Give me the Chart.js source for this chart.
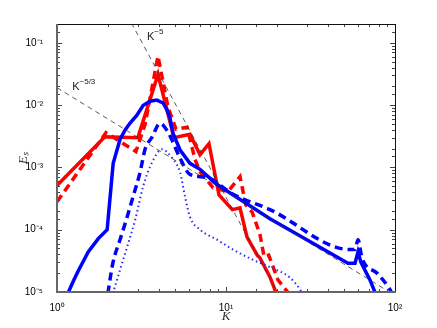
<!DOCTYPE html>
<html>
<head>
<meta charset="utf-8">
<script src="https://cdn.jsdelivr.net/npm/chart.js@4.4.0/dist/chart.umd.min.js"></script>
<style>
  html, body { margin: 0; padding: 0; background: #fff; }
</style>
</head>
<body>
<canvas id="chart" width="437" height="328"></canvas>
<script>
// spectra (K, E_s)
const redSolidK = [1, 1.92, 3.01, 3.96, 4.92, 6.12, 7.02, 7.93, 9.09, 10.9, 12.1, 13.3, 15.3, 15.9, 18.2, 20]
const redSolidE = [5.1e-4, 3.1e-3, 3.0e-3, 0.031, 3.0e-3, 3.4e-3, 1.6e-3, 2.4e-3, 3.6e-4, 2.1e-4, 2.25e-4, 7.7e-5, 3.9e-5, 3.5e-5, 1.75e-5, 9e-6]

const redDashK = [1, 1.95, 2.93, 3.32, 3.96, 4.54, 5.06, 5.88, 6.56, 7.02, 8.38, 10.3, 12.1, 13.1, 14.3, 15.9, 16.8, 17.9, 20.3, 23.9]
const redDashE = [2.8e-4, 3.6e-3, 1.8e-3, 4.9e-3, 0.061, 9.2e-3, 4.1e-3, 4.4e-3, 1.34e-3, 8.5e-4, 4.7e-4, 4.1e-4, 7.1e-4, 2.5e-4, 1.9e-4, 8.3e-5, 3.7e-5, 3.9e-5, 1.56e-5, 9e-6]

const blueSolidK = [1.166, 1.25, 1.337, 1.53, 1.755, 1.98, 2.15, 2.36, 2.53, 2.7, 2.97, 3.23, 3.55, 3.9, 4.24, 4.48, 4.66, 4.86, 5.35, 6.12, 7.02, 8.85, 18.2, 52.7, 58, 60.4, 62.9, 71.1, 77.2]
const blueSolidE = [9.8e-6, 1.5e-5, 2.2e-5, 4.4e-5, 7.2e-5, 1e-4, 1.16e-3, 2.8e-3, 4e-3, 5.1e-3, 6.9e-3, 9.8e-3, 1.15e-2, 1.2e-2, 1.08e-2, 8.3e-3, 6.2e-3, 3.5e-3, 1.9e-3, 1.16e-3, 9.3e-4, 5.3e-4, 1.5e-4, 2.9e-5, 2.9e-5, 4.4e-5, 3.0e-5, 1.56e-5, 9e-6]

const blueDashK = [2.0, 2.14, 2.36, 2.6, 2.82, 3.1, 3.32, 3.65, 4.07, 4.48, 4.8, 5.35, 6.12, 7.7, 11.0, 18.2, 54.2, 58, 60.4, 63.8, 78.4, 93.3, 97]
const blueDashE = [9.5e-6, 2.9e-5, 6.9e-5, 1.6e-4, 3.4e-4, 8.3e-4, 1.95e-3, 3.05e-3, 5.1e-3, 3.9e-3, 2.7e-3, 1.4e-3, 7.7e-4, 6.9e-4, 3.7e-4, 2.1e-4, 4.8e-5, 4.8e-5, 6.9e-5, 3.5e-5, 2.0e-5, 1.1e-5, 9e-6]

const blueDotK = [2.14, 2.36, 2.6, 2.9, 3.23, 3.65, 4.18, 4.86, 5.35, 5.72, 6.12, 7.02, 8.85, 11.0, 14.4, 18.2, 23.9, 27.5, 28.5]
const blueDotE = [9.5e-6, 2.26e-5, 5.3e-5, 1.43e-4, 4.9e-4, 1.2e-3, 1.95e-3, 1.35e-3, 8.3e-4, 3.4e-4, 1.6e-4, 1e-4, 6.9e-5, 4.8e-5, 3.3e-5, 2.5e-5, 1.7e-5, 1.08e-5, 9e-6]

// reference slopes, end points only
const slope53K = [1, 100]
const slope53E = [0.019, 8.8e-6]
const slope5K = [2.6, 22]
const slope5E = [0.278, 6.4e-6]

// slope labels
const noteBase = ['K', 'K']
const noteExp = ['\u22125/3', '\u22125']
const noteK = [1.23, 3.41]
const noteE = [0.0173, 0.11]

const sup = {'0': '\u2070', '1': '\u00b9', '2': '\u00b2', '3': '\u00b3', '4': '\u2074', '5': '\u2075', '-': '\u207b'}

function isDecade (v) {
  const e = Math.log10(v)
  return Math.abs(e - Math.round(e)) < 1e-6
}

function decadeLabel (v) {
  if (!isDecade(v)) return ''
  return '10' + String(Math.round(Math.log10(v))).split('').map(c => sup[c]).join('')
}

function pts (xs, ys) {
  return xs.map((x, i) => ({x: x, y: ys[i]}))
}

function line (data, color, width, dash, smooth) {
  return {
    data: data,
    borderColor: color,
    borderWidth: width,
    borderDash: dash,
    pointRadius: 0,
    fill: false,
    tension: 0,
    cubicInterpolationMode: smooth ? 'monotone' : 'default',
    clip: 0
  }
}

// inside ticks on all four sides, plus the box
const frameTicks = {
  id: 'frameTicks',
  afterDatasetsDraw (chart) {
    const ctx = chart.ctx
    const a = chart.chartArea
    const x = chart.scales.x
    const y = chart.scales.y
    ctx.save()
    ctx.strokeStyle = '#444'
    ctx.lineWidth = 1
    ctx.beginPath()
    x.ticks.forEach(t => {
      const px = Math.round(x.getPixelForValue(t.value)) + 0.5
      const len = isDecade(t.value) ? 5 : 3
      ctx.moveTo(px, a.bottom); ctx.lineTo(px, a.bottom - len)
      ctx.moveTo(px, a.top); ctx.lineTo(px, a.top + len)
    })
    y.ticks.forEach(t => {
      const py = Math.round(y.getPixelForValue(t.value)) + 0.5
      const len = isDecade(t.value) ? 5 : 3
      ctx.moveTo(a.left, py); ctx.lineTo(a.left + len, py)
      ctx.moveTo(a.right, py); ctx.lineTo(a.right - len, py)
    })
    ctx.stroke()

    ctx.strokeStyle = '#111'
    ctx.beginPath()
    ctx.moveTo(a.left, a.top + 0.5); ctx.lineTo(a.right, a.top + 0.5)
    ctx.moveTo(a.right + 0.5, a.top); ctx.lineTo(a.right + 0.5, a.bottom)
    ctx.stroke()
    ctx.strokeStyle = '#666'
    ctx.lineWidth = 2
    ctx.beginPath()
    ctx.moveTo(a.left, a.top); ctx.lineTo(a.left, a.bottom)
    ctx.lineTo(a.right + 1, a.bottom)
    ctx.stroke()

    // K^-5/3 and K^-5 labels
    ctx.fillStyle = '#222'
    ctx.textBaseline = 'alphabetic'
    noteBase.forEach((b, i) => {
      const px = x.getPixelForValue(noteK[i])
      const py = y.getPixelForValue(noteE[i])
      ctx.font = '11px "Liberation Sans", Arial, sans-serif'
      ctx.fillText(b, px, py)
      const w = ctx.measureText(b).width
      ctx.font = '8px "Liberation Sans", Arial, sans-serif'
      ctx.fillText(noteExp[i], px + w, py - 6)
    })
    ctx.restore()
  }
}

const tickFont = {family: '"Liberation Sans", Arial, sans-serif', size: 10}
const titleFont = {family: '"Liberation Serif", "Times New Roman", serif', style: 'italic', size: 13}

new Chart(document.getElementById('chart').getContext('2d'), {
  type: 'line',
  data: {
    datasets: [
      line(pts(slope53K, slope53E), '#333', 0.8, [5, 4], false),
      line(pts(slope5K, slope5E), '#333', 0.8, [5, 4], false),
      line(pts(blueDotK, blueDotE), '#2a2aff', 2, [1.5, 3], true),
      line(pts(blueDashK, blueDashE), '#0000ff', 3.5, [8, 5], true),
      line(pts(blueSolidK, blueSolidE), '#0000ff', 3.5, [], false),
      line(pts(redDashK, redDashE), '#ff0000', 3.5, [8, 5], false),
      line(pts(redSolidK, redSolidE), '#ff0000', 3.5, [], false)
    ]
  },
  options: {
    responsive: false,
    animation: false,
    devicePixelRatio: 1,
    layout: {padding: {top: 24, right: 42, left: 0, bottom: 0}},
    plugins: {legend: {display: false}, tooltip: {enabled: false}},
    scales: {
      x: {
        type: 'logarithmic',
        min: 1,
        max: 100,
        grid: {display: false},
        border: {display: false},
        ticks: {autoSkip: false, maxRotation: 0, padding: 2, color: '#000', font: tickFont, callback: v => decadeLabel(v)},
        title: {display: true, text: 'K', color: '#333', font: titleFont, padding: {top: 0, bottom: 4}},
        afterFit: s => { s.height = 36 }
      },
      y: {
        type: 'logarithmic',
        min: 1e-5,
        max: 0.2,
        grid: {display: false},
        border: {display: false},
        ticks: {autoSkip: false, padding: 6, color: '#000', font: tickFont, callback: v => decadeLabel(v)},
        title: {display: true, text: 'E\u209b', color: '#333', font: titleFont, padding: {top: 16, bottom: 0}},
        afterFit: s => { s.width = 57 }
      }
    }
  },
  plugins: [frameTicks]
})
</script>
</body>
</html>
